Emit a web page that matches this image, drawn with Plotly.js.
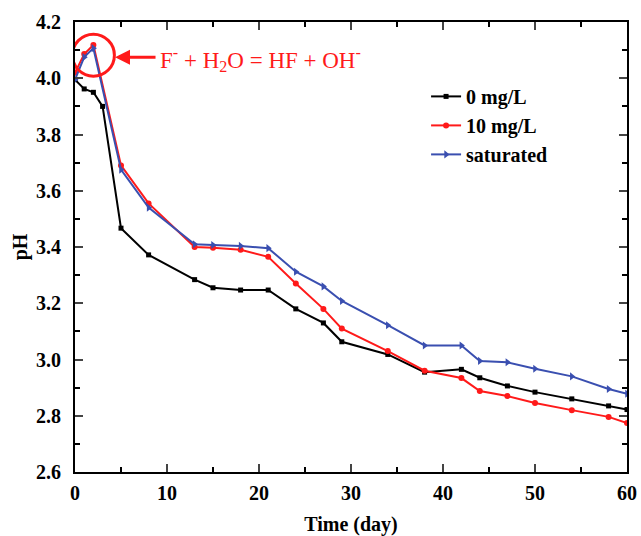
<!DOCTYPE html>
<html>
<head>
<meta charset="utf-8">
<script src="https://cdn.plot.ly/plotly-3.0.1.min.js"></script>
<style>html,body{margin:0;padding:0;background:#fff;}#chart{width:641px;height:536px;}</style>
</head>
<body>
<div id="chart"></div>
<script>
const seriesNames = ["0 mg/L", "10 mg/L", "saturated"];
const seriesColors = ["#000000", "#ff1a1a", "#3a4fb0"];
const seriesSymbols = ["square", "circle", "triangle-right"];

const time0 = [0, 1, 2, 3, 5, 8, 13, 15, 18, 21, 24, 27, 29, 34, 38, 42, 44, 47, 50, 54, 58, 60];
const ph0 = [3.995, 3.962, 3.95, 3.90, 3.467, 3.372, 3.284, 3.255, 3.247, 3.247, 3.18, 3.13, 3.063, 3.018, 2.955, 2.965, 2.935, 2.906, 2.884, 2.86, 2.835, 2.822];

const time10 = [0, 1, 2, 5, 8, 13, 15, 18, 21, 24, 27, 29, 34, 38, 42, 44, 47, 50, 54, 58, 60];
const ph10 = [4.02, 4.086, 4.118, 3.69, 3.555, 3.40, 3.397, 3.39, 3.365, 3.27, 3.18, 3.11, 3.03, 2.96, 2.934, 2.888, 2.87, 2.845, 2.82, 2.796, 2.774];

const timeSat = [0, 1, 2, 5, 8, 13, 15, 18, 21, 24, 27, 29, 34, 38, 42, 44, 47, 50, 54, 58, 60];
const phSat = [3.995, 4.075, 4.107, 3.675, 3.54, 3.41, 3.407, 3.404, 3.396, 3.312, 3.26, 3.208, 3.122, 3.05, 3.05, 2.995, 2.99, 2.967, 2.94, 2.895, 2.878];

const xs = [time0, time10, timeSat];
const ys = [ph0, ph10, phSat];
const markerSizes = [5, 6, 7];

const traces = xs.map((x, i) => ({
  x: x, y: ys[i], name: seriesNames[i], type: 'scatter', mode: 'lines+markers',
  line: {color: seriesColors[i], width: 2},
  marker: {symbol: seriesSymbols[i], size: markerSizes[i], color: seriesColors[i]}
}));

const serif = 'Liberation Serif, Times New Roman, serif';
const tickFont = {family: serif, size: 20, color: '#000', weight: 'bold'};
const titleFont = {family: serif, size: 20, color: '#000', weight: 'bold'};
const layout = {
  width: 641, height: 536,
  margin: {l: 75, r: 14, t: 22, b: 64},
  paper_bgcolor: '#fff', plot_bgcolor: '#fff',
  showlegend: true,
  legend: {x: 0.636, y: 0.878, xanchor: 'left', yanchor: 'top', bgcolor: 'rgba(0,0,0,0)',
    font: {family: serif, size: 20, color: '#000', weight: 'bold'},
    tracegroupgap: 0},
  xaxis: {
    range: [0, 60], tick0: 0, dtick: 10, ticks: 'inside', ticklen: 8, tickwidth: 2,
    minor: {dtick: 5, ticks: 'inside', ticklen: 5, tickwidth: 2, tickcolor: '#000'},
    showline: true, linewidth: 2, linecolor: '#000', mirror: 'ticks', showgrid: false, zeroline: false,
    tickfont: tickFont, ticklabelstandoff: 2,
    title: {text: 'Time (day)', font: titleFont, standoff: 18}
  },
  yaxis: {
    range: [2.6, 4.2], tick0: 2.6, dtick: 0.2, tickformat: '.1f', ticks: 'inside', ticklen: 8, tickwidth: 2,
    minor: {dtick: 0.1, ticks: 'inside', ticklen: 5, tickwidth: 2, tickcolor: '#000'},
    showline: true, linewidth: 2, linecolor: '#000', mirror: 'ticks', showgrid: false, zeroline: false,
    tickfont: tickFont, ticklabelstandoff: 8,
    title: {text: 'pH', font: titleFont, standoff: 3}
  },
  shapes: [{
    type: 'circle', xref: 'x', yref: 'y', xsizemode: 'pixel', ysizemode: 'pixel',
    xanchor: 2, yanchor: 4.082, x0: -21, x1: 21, y0: -21, y1: 21,
    line: {color: '#ff1a1a', width: 3}
  }],
  annotations: [{
    x: 4.35, y: 4.075, xref: 'x', yref: 'y', text: '', showarrow: true,
    ax: 42, ay: 0, arrowcolor: '#ff1a1a', arrowwidth: 3, arrowhead: 2, arrowsize: 1
  }, {
    x: 9.0, y: 4.065, xref: 'x', yref: 'y', xanchor: 'left', yanchor: 'middle', showarrow: false,
    text: 'F<sup>-</sup> + H<sub>2</sub>O = HF + OH<sup>-</sup>',
    font: {family: serif, size: 23, color: '#ff1a1a'}
  }]
};

Plotly.newPlot('chart', traces, layout, {displayModeBar: false});
</script>
</body>
</html>
